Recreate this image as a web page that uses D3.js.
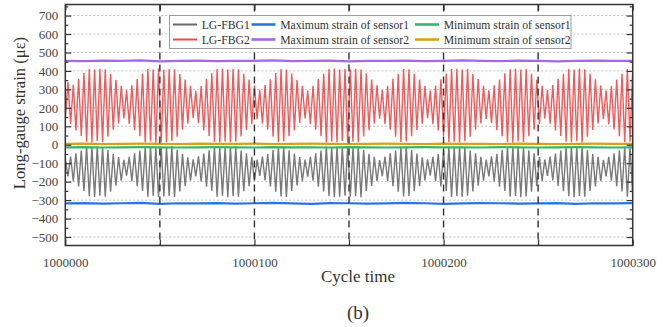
<!DOCTYPE html>
<html>
<head>
<meta charset="utf-8">
<script src="https://cdn.jsdelivr.net/npm/d3@7"></script>
<style>
  html, body { margin: 0; padding: 0; background: #fff; }
  svg { display: block; font-family: "Liberation Serif", "Times New Roman", serif; }
</style>
</head>
<body>
<div id="rootDiv"></div>
<script>
const width = 664
const height = 327

// cycle range and ticks
const xStart = 1000000
const xEnd = 1000300
const xTicks = [1000000, 1000050, 1000100, 1000150, 1000200, 1000250, 1000300]
const xLabelTicks = [1000000, 1000100, 1000200, 1000300]
const xDashed = [1000050, 1000100, 1000150, 1000200, 1000250]
const yTicks = [-500, -400, -300, -200, -100, 0, 100, 200, 300, 400, 500, 600, 700]
const yMinorTicks = [-550, -450, -350, -250, -150, -50, 50, 150, 250, 350, 450, 550, 650, 750]

// LG-FBG2: peak and valley of each loading stroke
const fbg2High = [340, 325, 358, 388, 410, 407, 412, 409, 384, 352, 318, 296, 322, 356, 386, 411, 408, 413, 406, 410,
    409, 383, 354, 320, 292, 318, 357, 387, 410, 412, 407, 411, 409, 385, 353, 321, 298, 323, 355, 388,
    411, 408, 386, 352, 319, 294, 320, 356, 384, 410, 413, 407, 411, 409, 412, 408, 387, 354, 322, 297,
    319, 357, 385, 411, 409, 384, 353, 318, 293, 321, 355, 386, 410, 412, 408, 411, 383, 356, 320, 295,
    322, 354, 387, 409, 412, 407, 410, 385, 352, 319, 296, 323, 357, 384, 411, 408, 413, 409, 386, 355,
    321, 294, 318, 353, 385, 410, 407]
const fbg2Low = [138, 112, 78, 47, 16, 12, 19, 14, 44, 82, 116, 142, 113, 79, 46, 13, 18, 11, 17, 14,
    20, 43, 81, 114, 145, 117, 77, 48, 15, 12, 18, 13, 16, 45, 80, 112, 139, 115, 83, 44,
    14, 19, 46, 78, 118, 143, 111, 82, 47, 12, 17, 14, 20, 11, 16, 13, 45, 79, 116, 141,
    113, 81, 43, 15, 18, 46, 80, 114, 144, 112, 78, 47, 13, 16, 12, 19, 44, 82, 115, 140,
    117, 79, 45, 14, 11, 18, 15, 46, 81, 113, 142, 114, 77, 48, 16, 13, 19, 12, 44, 80,
    116, 139, 112, 83, 46, 14, 17]

// LG-FBG1: top and bottom of each stroke
const fbg1Top = [-78, -64, -47, -31, -11, -14, -9, -13, -29, -50, -67, -82, -65, -46, -32, -12, -8, -15, -10, -13,
    -9, -28, -49, -68, -79, -63, -48, -30, -11, -14, -10, -12, -8, -31, -47, -66, -81, -64, -50, -29,
    -12, -10, -30, -48, -67, -80, -65, -46, -32, -9, -13, -11, -15, -8, -12, -10, -28, -49, -66, -83,
    -64, -47, -31, -13, -9, -29, -48, -68, -79, -65, -50, -30, -11, -14, -8, -12, -31, -46, -66, -81,
    -63, -49, -28, -10, -13, -9, -12, -30, -47, -67, -80, -64, -48, -32, -11, -8, -14, -10, -29, -50,
    -65, -82, -66, -47, -30, -12, -9]
const fbg1Bottom = [-172, -198, -226, -250, -279, -283, -276, -281, -254, -222, -195, -168, -197, -225, -251, -282, -278, -285, -280, -277,
    -283, -253, -223, -194, -171, -199, -227, -249, -281, -276, -284, -279, -282, -252, -224, -196, -169, -193, -226, -255,
    -280, -283, -250, -221, -197, -173, -195, -228, -253, -278, -284, -281, -276, -282, -279, -285, -251, -223, -198, -170,
    -196, -225, -254, -280, -277, -252, -224, -194, -167, -197, -226, -250, -283, -279, -281, -276, -253, -222, -195, -171,
    -199, -227, -251, -282, -278, -284, -280, -254, -225, -196, -169, -194, -223, -252, -279, -285, -277, -282, -250, -226,
    -197, -172, -195, -224, -253, -281, -278]

// envelope lines, one value every 10 cycles
const envCycles = [1000000, 1000010, 1000020, 1000030, 1000040, 1000050, 1000060, 1000070, 1000080, 1000090,
    1000100, 1000110, 1000120, 1000130, 1000140, 1000150, 1000160, 1000170, 1000180, 1000190,
    1000200, 1000210, 1000220, 1000230, 1000240, 1000250, 1000260, 1000270, 1000280, 1000290, 1000300]
const maxSensor1 = [-318, -316, -319, -317, -315, -320, -317, -318, -316, -319, -317, -315, -318, -320, -316, -317,
    -319, -318, -315, -317, -320, -318, -316, -317, -319, -318, -316, -320, -317, -318, -316]
const maxSensor2 = [455, 453, 456, 454, 457, 452, 455, 456, 453, 455, 454, 457, 453, 455, 456, 452,
    455, 454, 456, 453, 455, 457, 454, 453, 456, 455, 452, 455, 456, 454, 455]
const minSensor1 = [-14, -13, -15, -14, -13, -14, -15, -14, -13, -14, -15, -13, -14, -14, -15, -13,
    -14, -15, -14, -13, -14, -14, -15, -13, -14, -15, -14, -13, -14, -15, -14]
const minSensor2 = [5, 6, 4, 5, 6, 5, 4, 6, 5, 5, 6, 4, 5, 6, 5, 4,
    5, 6, 5, 4, 6, 5, 5, 4, 6, 5, 4, 5, 6, 5, 5]

const seriesNames = ["LG-FBG1", "LG-FBG2", "Maximum strain of sensor1", "Maximum strain of sensor2",
    "Minimum strain of sensor1", "Minimum strain of sensor2"]
const seriesColors = ["#6a6a6a", "#f04848", "#2575e6", "#a468e8", "#35b56e", "#d6a11e"]

// interleave strokes into one sample list
function strokes(first, second) {
    const vals = []
    for (let i = 0; i < first.length; i++) {
        vals.push(first[i])
        vals.push(second[i])
    }
    const step = (xEnd - xStart) / (vals.length - 1)
    return vals.map((v, i) => [xStart + i * step, v])
}
const fbg2Pts = strokes(fbg2Low, fbg2High)
const fbg1Pts = strokes(fbg1Top, fbg1Bottom)

const svg = d3.select("#rootDiv")
    .append("svg")
    .attr("width", width)
    .attr("height", height)

const x = d3.scaleLinear().domain([xStart, xEnd]).range([65.3, 632.7])
const y = d3.scaleLinear().domain([-546, 760]).range([245.5, 4.5])

const [x0, x1] = x.range()
const [yb, yt] = y.range()

svg.append("clipPath").attr("id", "clip")
    .append("rect")
    .attr("x", x0).attr("y", yt)
    .attr("width", x1 - x0).attr("height", yb - yt)

// horizontal dotted grid
svg.append("g")
    .selectAll("line")
    .data(yTicks)
    .join("line")
    .attr("x1", x0).attr("x2", x1)
    .attr("y1", d => y(d)).attr("y2", d => y(d))
    .attr("stroke", "#bdbdbd")
    .attr("stroke-width", 1)
    .attr("stroke-dasharray", "2,2")

const plot = svg.append("g").attr("clip-path", "url(#clip)")
const line = d3.line().x(d => x(d[0])).y(d => y(d[1]))

plot.append("path")
    .attr("d", line(fbg1Pts))
    .attr("fill", "none")
    .attr("stroke", seriesColors[0])
    .attr("stroke-opacity", 0.9)
    .attr("stroke-width", 1.4)

plot.append("path")
    .attr("d", line(fbg2Pts))
    .attr("fill", "none")
    .attr("stroke", seriesColors[1])
    .attr("stroke-opacity", 0.9)
    .attr("stroke-width", 1.4)

const envLines = [maxSensor1, maxSensor2, minSensor1, minSensor2]
envLines.forEach((vals, k) => {
    plot.append("path")
        .attr("d", line(vals.map((v, i) => [envCycles[i], v])))
        .attr("fill", "none")
        .attr("stroke", seriesColors[k + 2])
        .attr("stroke-width", 2.2)
})

// vertical dashed lines
svg.append("g")
    .selectAll("line")
    .data(xDashed)
    .join("line")
    .attr("x1", d => x(d)).attr("x2", d => x(d))
    .attr("y1", yt).attr("y2", yb)
    .attr("stroke", "#333")
    .attr("stroke-width", 1.4)
    .attr("stroke-dasharray", "7,5")

// axes, ticks pointing inward
const fmtX = d => xLabelTicks.includes(d) ? String(d) : ""
const fmtY = d => d < 0 ? "\u2212" + Math.abs(d) : String(d)

function styleAxis(g) {
    g.select(".domain").remove()
    g.selectAll(".tick line").attr("stroke", "#333").attr("stroke-width", 1.2)
    g.selectAll("text")
        .attr("fill", "#444")
        .style("font-family", "'Liberation Serif', 'Times New Roman', serif")
        .style("font-size", "13px")
}

svg.append("g")
    .attr("transform", `translate(0,${yb})`)
    .call(d3.axisBottom(x).tickValues(xTicks).tickFormat(fmtX).tickSize(-6).tickPadding(12))
    .call(styleAxis)
svg.append("g")
    .attr("transform", `translate(0,${yt})`)
    .call(d3.axisTop(x).tickValues(xTicks).tickFormat("").tickSize(-6))
    .call(styleAxis)
svg.append("g")
    .attr("transform", `translate(${x0},0)`)
    .call(d3.axisLeft(y).tickValues(yTicks).tickFormat(fmtY).tickSize(-6).tickPadding(7))
    .call(styleAxis)
svg.append("g")
    .attr("transform", `translate(${x0},0)`)
    .call(d3.axisLeft(y).tickValues(yMinorTicks.filter(v => y(v) > yt && y(v) < yb)).tickFormat("").tickSize(-3))
    .call(styleAxis)
svg.append("g")
    .attr("transform", `translate(${x1},0)`)
    .call(d3.axisRight(y).tickValues(yTicks).tickFormat("").tickSize(-6))
    .call(styleAxis)
svg.append("g")
    .attr("transform", `translate(${x1},0)`)
    .call(d3.axisRight(y).tickValues(yMinorTicks.filter(v => y(v) > yt && y(v) < yb)).tickFormat("").tickSize(-3))
    .call(styleAxis)

// frame
svg.append("rect")
    .attr("x", x0).attr("y", yt)
    .attr("width", x1 - x0).attr("height", yb - yt)
    .attr("fill", "none")
    .attr("stroke", "#333")
    .attr("stroke-width", 1.5)

// legend
const legend = svg.append("g")
legend.append("rect")
    .attr("x", 169.5).attr("y", 15.5)
    .attr("width", 401.5).attr("height", 33)
    .attr("fill", "#fff")
    .attr("stroke", "#9a9a9a")
    .attr("stroke-width", 1)

const legCols = [173, 251.5, 415]
const legRows = [24.5, 39.5]
seriesNames.forEach((name, i) => {
    const col = Math.floor(i / 2)
    const row = i % 2
    const lx = legCols[col]
    const ly = legRows[row]
    legend.append("line")
        .attr("x1", lx).attr("x2", lx + 24)
        .attr("y1", ly).attr("y2", ly)
        .attr("stroke", seriesColors[i])
        .attr("stroke-width", i < 2 ? 2 : 2.6)
    legend.append("text")
        .attr("x", lx + 28.7)
        .attr("y", ly + 4)
        .attr("fill", "#333")
        .style("font-size", "11.7px")
        .text(name)
})

// titles
svg.append("text")
    .attr("transform", `translate(25,113) rotate(-90)`)
    .attr("text-anchor", "middle")
    .attr("fill", "#333")
    .style("font-size", "16.6px")
    .text("Long-gauge strain (με)")

svg.append("text")
    .attr("x", 358).attr("y", 282)
    .attr("text-anchor", "middle")
    .attr("fill", "#333")
    .style("font-size", "17px")
    .text("Cycle time")

svg.append("text")
    .attr("x", 358).attr("y", 319)
    .attr("text-anchor", "middle")
    .attr("fill", "#333")
    .style("font-size", "19px")
    .text("(b)")
</script>
</body>
</html>
